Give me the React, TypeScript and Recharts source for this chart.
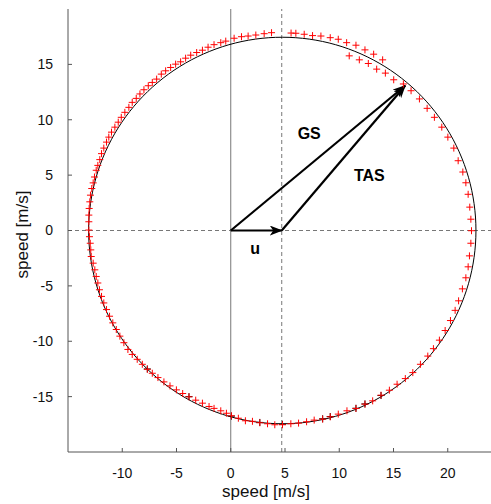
import React from 'react';
import { ScatterChart, Scatter, XAxis, YAxis, ReferenceLine, ReferenceDot } from 'recharts';

// ---- axes ----
const X_TICKS = [-10, -5, 0, 5, 10, 15, 20];
const Y_TICKS = [-15, -10, -5, 0, 5, 10, 15];
const X_DOMAIN: [number, number] = [-15, 25];
const Y_DOMAIN: [number, number] = [-20, 20];

// ---- fitted circle (model) ----
const CIRCLE_CX = 4.75;
const CIRCLE_CY = 0;
const CIRCLE_RX = 17.85;
const CIRCLE_RY = 17.45;
const CIRCLE_STEPS = 180;

// ---- vectors ----
const WIND_U = 4.7;
const TIP_X = 16.07;
const TIP_Y = 13.07;

// ---- measured points (red) ----
const RED_X = [
  3.76, 3.08, 2.31, 1.6, 0.99, 0.31, -0.46, -0.92, -1.54, -2.09, -2.61, -3.14, -3.69, -4.16, -4.62, -5.08,
  -5.54, -6.0, -6.4, -6.83, -7.23, -7.6, -8.0, -8.37, -8.71, -9.08, -9.39, -9.76, -10.09, -10.37, -10.68,
  -10.99, -11.24, -11.45, -11.7, -11.91, -12.07, -12.25, -12.4, -12.56, -12.68, -12.81, -12.93, -12.99,
  -13.05, -13.08, -13.08, -13.08, -13.02, -12.95, -12.9, -12.86, -12.68, -12.53, -12.4, -12.25, -12.1,
  -11.91, -11.7, -11.45, -11.17, -10.87, -10.55, -10.22, -9.85, -9.48, -9.08, -8.62, -8.15, -7.69, -7.23,
  -6.71, -6.16, -5.6, -5.01, -4.43, -3.85, -3.23, -2.61, -2.0, -1.54, -0.92, -0.4, 0.06, 0.7, 1.35, 2.0,
  2.68, 3.39, 4.06, 4.77, 5.54, 6.25, 6.99, 7.69, 8.47, 9.17, 9.91, 10.71, 11.54, 12.37, 13.08, 13.85,
  14.62, 15.33, 16.09, 16.78, 17.48, 18.16, 18.68, 19.23, 19.76, 20.25, 20.68, 21.0, 21.35, 21.67, 21.88,
  22.0, 22.13, 22.19, 22.13, 22.03, 21.88, 21.67, 21.39, 20.96, 20.56, 20.01, 19.45, 18.77, 18.1, 17.39,
  16.62, 15.91, 15.02, 14.25, 13.45, 12.68, 11.85, 10.92, 14.0, 13.17, 12.37, 11.54, 10.68, 9.91, 9.17,
  8.31, 7.54, 6.77, 6.0, 5.56,
];
const RED_Y = [
  17.86, 17.77, 17.65, 17.56, 17.5, 17.36, 17.1, 16.96, 16.78, 16.55, 16.28, 16.07, 15.83, 15.56, 15.23, 15.02,
  14.72, 14.42, 14.12, 13.67, 13.37, 13.07, 12.71, 12.33, 11.93, 11.57, 11.12, 10.67, 10.22, 9.78, 9.33,
  8.88, 8.43, 7.98, 7.44, 6.94, 6.4, 5.88, 5.44, 4.83, 4.3, 3.79, 3.19, 2.59,
  1.99, 1.39, 0.79, 0.04, -0.56, -1.15, -1.75, -2.35, -2.95, -3.55, -4.15, -4.74, -5.35,
  -5.95, -6.54, -7.14, -7.74, -8.34, -8.94, -9.54, -10.13, -10.74, -11.19, -11.63, -12.08, -12.53, -12.89,
  -13.28, -13.67, -14.03, -14.39, -14.72, -15.02, -15.32, -15.59, -15.89, -16.06, -16.28, -16.5, -16.73, -16.95, -17.18, -17.23,
  -17.36, -17.45, -17.54, -17.54, -17.45, -17.39, -17.27, -17.12, -17.03, -16.82, -16.58, -16.28, -16.07, -15.68, -15.38, -14.87,
  -14.42, -13.88, -13.37, -12.83, -12.08, -11.34, -10.67, -9.9, -9.03, -8.13, -7.21, -6.35, -5.27, -4.27, -3.28,
  -2.29, -1.15, -0.02, 1.02, 2.11, 3.27, 4.31, 5.28, 6.3, 7.44, 8.43, 9.33, 10.22, 11.03, 11.88,
  12.62, 13.23, 13.61, 14.21, 14.57, 15.08, 15.41, 15.77, 15.41, 15.92, 16.31, 16.73, 16.96, 17.27, 17.41,
  17.56, 17.6, 17.72, 17.81, 17.83,
];

// ---- reference points (black), mostly hidden under the red ones ----
const BLACK_X = [4.77, 8.47, 9.17, 11.54, 12.37, 13.85, 0.06, -3.85, -7.69, 2.68];
const BLACK_Y = [-17.5, -17.0, -16.8, -16.05, -15.66, -14.9, -16.76, -15.0, -12.5, -17.33];

const redData = RED_X.map((x, i) => ({ x, y: RED_Y[i] }));
const blackData = BLACK_X.map((x, i) => ({ x, y: BLACK_Y[i] }));
const circleData = Array.from({ length: CIRCLE_STEPS + 1 }, (_, i) => {
  const t = (2 * Math.PI * i) / CIRCLE_STEPS;
  return { x: CIRCLE_CX + CIRCLE_RX * Math.cos(t), y: CIRCLE_CY + CIRCLE_RY * Math.sin(t) };
});

const FONT = 'Liberation Sans, Arial, sans-serif';

const makeCross = (color: string) => (p: any) => (
  <g>
    <line x1={p.cx - 3.5} x2={p.cx + 3.5} y1={p.cy} y2={p.cy} stroke={color} strokeWidth={1} />
    <line x1={p.cx} x2={p.cx} y1={p.cy - 3.5} y2={p.cy + 3.5} stroke={color} strokeWidth={1} />
  </g>
);
const RedCross = makeCross('#ff0000');
const BlackCross = makeCross('#000000');
const NoDot = () => <g />;

const Arrow = (p: any) => (
  <line x1={p.x1} y1={p.y1} x2={p.x2} y2={p.y2} stroke="#000" strokeWidth={2.2} markerEnd="url(#arrowHead)" />
);

const textShape = (txt: string) => (p: any) => (
  <text x={p.cx} y={p.cy} textAnchor="middle" dominantBaseline="central" fontFamily={FONT} fontWeight="bold" fontSize={16} fill="#000">
    {txt}
  </text>
);

export default function App() {
  return (
    <div style={{ position: 'absolute', left: 0, top: 0, width: 491, height: 504, overflow: 'hidden', background: '#fff' }}>
      <svg width={0} height={0} style={{ position: 'absolute' }}>
        <defs>
          <marker id="arrowHead" viewBox="0 0 13 10" refX={12} refY={5} markerWidth={13} markerHeight={10} markerUnits="userSpaceOnUse" orient="auto">
            <path d="M0,0 L13,5 L0,10 L3.5,5 Z" fill="#000" />
          </marker>
        </defs>
      </svg>
      <ScatterChart width={520} height={504} margin={{ top: 9, right: 18, bottom: 0, left: 8 }}>
        <XAxis
          xAxisId="b"
          type="number"
          dataKey="x"
          domain={X_DOMAIN}
          ticks={X_TICKS}
          allowDataOverflow
          interval={0}
          height={52}
          tickSize={-4}
          tickMargin={20}
          stroke="#555"
          tick={{ fill: '#111', fontSize: 14, fontFamily: FONT }}
        />
        <XAxis
          xAxisId="t"
          orientation="top"
          type="number"
          dataKey="x"
          domain={X_DOMAIN}
          ticks={X_TICKS}
          allowDataOverflow
          interval={0}
          height={0}
          tickSize={-4}
          tick={false}
          stroke="#555"
        />
        <YAxis
          type="number"
          dataKey="y"
          domain={Y_DOMAIN}
          ticks={Y_TICKS}
          allowDataOverflow
          interval={0}
          width={60}
          tickSize={-4}
          tickMargin={19}
          stroke="#555"
          tick={{ fill: '#111', fontSize: 14, fontFamily: FONT }}
        />
        <ReferenceLine xAxisId="b" x={0} stroke="#777" strokeWidth={1} />
        <ReferenceLine xAxisId="b" y={0} stroke="#777" strokeDasharray="4 3" />
        <ReferenceLine xAxisId="b" x={WIND_U} stroke="#777" strokeDasharray="4 3" />
        <Scatter xAxisId="b" data={circleData} line={{ stroke: '#000', strokeWidth: 1 }} lineType="joint" shape={NoDot} isAnimationActive={false} />
        <Scatter xAxisId="b" data={blackData} shape={BlackCross} isAnimationActive={false} />
        <Scatter xAxisId="b" data={redData} shape={RedCross} isAnimationActive={false} />
        <ReferenceLine xAxisId="b" segment={[{ x: 0, y: 0 }, { x: WIND_U, y: 0 }]} shape={Arrow} />
        <ReferenceLine xAxisId="b" segment={[{ x: 0, y: 0 }, { x: TIP_X, y: TIP_Y }]} shape={Arrow} />
        <ReferenceLine xAxisId="b" segment={[{ x: WIND_U, y: 0 }, { x: TIP_X, y: TIP_Y }]} shape={Arrow} />
        <ReferenceDot xAxisId="b" x={7.23} y={8.77} shape={textShape('GS')} />
        <ReferenceDot xAxisId="b" x={12.77} y={4.99} shape={textShape('TAS')} />
        <ReferenceDot xAxisId="b" x={2.24} y={-1.6} shape={textShape('u')} />
      </ScatterChart>
      <svg width={491} height={504} style={{ position: 'absolute', left: 0, top: 0, pointerEvents: 'none' }}>
        <text x={266} y={491} textAnchor="middle" dominantBaseline="central" fontFamily={FONT} fontSize={17} fill="#111">speed [m/s]</text>
        <text x={22.5} y={234.5} textAnchor="middle" dominantBaseline="central" fontFamily={FONT} fontSize={17} fill="#111" transform="rotate(-90 22.5 234.5)">speed [m/s]</text>
      </svg>
    </div>
  );
}
